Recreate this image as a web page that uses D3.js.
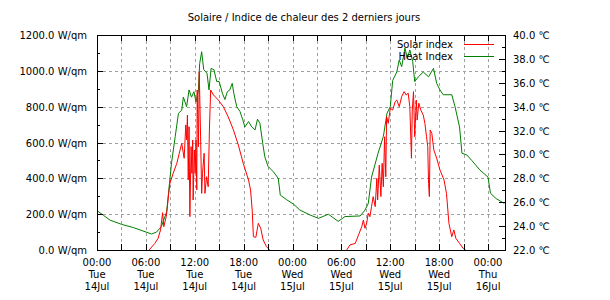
<!DOCTYPE html>
<html>
<head>
<meta charset="utf-8">
<script src="https://cdn.jsdelivr.net/npm/d3@7"></script>
<style>
body { margin:0; background:#fff; }
text { font-family: "DejaVu Sans", sans-serif; font-size:10px; fill:#000; }
.grid line { stroke:#a0a0a0; stroke-dasharray:3,3; }
</style>
</head>
<body>
<div id="chart"></div>
<script>
// =====================================================================
// data (hours since 14 Jul 00:00)
var heatHours = [0,0.8,1.6,3,4.5,5.9,6.7,7.3,7.9,8.55,8.9,9.15,9.6,10.0,10.4,10.6,11.0,11.3,11.6,11.9,12.15,12.45,12.6,12.85,13.1,13.5,13.75,14.0,14.35,14.7,15.0,15.4,15.7,16.0,16.3,16.6,16.8,17.15,17.55,17.9,18.15,18.6,19.0,19.4,19.7,20.0,20.35,20.6,21.0,21.65,22.25,22.5,23.3,24.1,24.9,
  26.15,27.2,28.4,29.6,30.45,32.3,32.9,33.3,33.7,34.5,35.15,35.6,36.0,36.3,36.8,37.1,37.4,37.8,38.1,38.4,38.75,39.0,39.45,40.05,40.7,41.3,41.7,42.1,42.5,43.55,43.95,44.5,44.8,45.4,46.0,47.0,48.0,48.3,49.0,50.0];
var heatValues = [25.3,24.9,24.5,24.15,23.87,23.53,23.34,23.5,23.95,25.2,27.6,29.3,31.5,33.45,33.7,34.8,34.0,35.4,34.8,35.25,34.4,35.4,37.6,38.6,37.1,36.8,35.4,37.2,37.1,36.1,36.1,35.1,34.6,35.25,35.4,35.95,35.1,34.0,33.6,32.9,32.3,32.75,32.3,32.05,32.95,32.6,30.9,29.8,29.0,28.55,28.0,26.6,26.2,25.85,25.35,
  24.93,24.65,25.0,24.4,24.8,24.85,25.35,25.9,28.1,30.1,31.5,33.45,34.0,36.2,36.9,37.9,37.35,38.9,38.05,38.75,37.8,36.1,36.5,36.9,36.5,37.2,35.95,35.4,35.0,35.0,34.0,32.3,30.1,29.95,29.5,28.7,28.1,26.75,26.3,25.9];

var solarHours = [6.4,7.1,7.5,7.8,8.05,8.2,8.5,8.65,8.8,8.95,9.35,9.8,10.1,10.4,10.7,10.9,11.0,11.1,11.2,11.3,11.4,11.55,11.65,11.75,11.8,11.95,12.05,12.15,12.25,12.3,12.45,12.55,12.7,12.85,12.95,13.15,13.25,13.45,13.65,13.8,13.95,14.3,14.9,15.5,16.1,16.75,17.35,17.95,18.6,18.85,19.05,19.2,19.5,19.8,20.1,20.4,20.8,21.2,
  null,
  30.65,31.05,31.7,32.1,32.5,32.7,32.9,33.1,33.3,33.5,33.7,33.9,34.15,34.35,34.45,34.65,34.85,35.0,35.15,35.3,35.45,35.55,35.75,36.0,36.3,36.6,36.8,37.1,37.4,37.7,37.95,38.2,38.4,38.6,38.7,38.85,39.0,39.2,39.3,39.5,39.75,40.05,40.25,40.45,40.6,40.7,40.8,40.9,41.1,41.35,41.7,42.1,42.6,42.9,43.2,43.55,43.8,44.05,44.5,44.95,45.25];
var solarValues = [0,37,65,112,208,130,186,245,316,372,428,484,540,595,512,698,614,753,391,688,186,577,428,614,279,558,428,614,335,893,577,995,670,316,428,540,316,409,353,670,893,865,837,800,744,670,586,484,391,335,223,74,71,149,121,56,19,0,
  null,
  0,28,37,84,130,167,121,149,205,186,242,298,242,400,279,474,298,484,353,632,409,744,707,791,781,828,837,800,856,884,865,875,800,512,781,884,632,837,725,819,781,753,707,632,577,372,298,670,651,558,512,447,391,316,149,74,112,65,37,9,0];

var titleText = "Solaire / Indice de chaleur des 2 derniers jours";
var seriesNames = ["Solar index", "Heat Index"];
var seriesColors = ["#ff0000", "#008000"];

// =====================================================================
var width = 610, height = 300;
var plot = { left:97, right:505, top:35, bottom:250 };
var start = new Date(2015, 6, 14, 0, 0);
var end = new Date(2015, 6, 16, 2, 5);
function hToDate(h) { return new Date(start.getTime() + h * 3600000); }

var svg = d3.select("#chart").append("svg")
    .attr("width", width).attr("height", height);

var x = d3.scaleTime().domain([start, end]).range([plot.left, plot.right]);
var yL = d3.scaleLinear().domain([0, 1200]).range([plot.bottom, plot.top]);
var yR = d3.scaleLinear().domain([22, 40]).range([plot.bottom, plot.top]);

// grid
var grid = svg.append("g").attr("class", "grid");
grid.selectAll(".gx").data(x.ticks(d3.timeHour.every(3)).filter(function(d){ return d > start; }))
    .enter().append("line")
    .attr("x1", function(d){ return Math.round(x(d)) + 0.5; })
    .attr("x2", function(d){ return Math.round(x(d)) + 0.5; })
    .attr("y1", plot.top).attr("y2", plot.bottom);
grid.selectAll(".gy").data(d3.range(200, 1200, 200))
    .enter().append("line")
    .attr("x1", plot.left).attr("x2", plot.right)
    .attr("y1", function(d){ return Math.round(yL(d)) + 0.5; })
    .attr("y2", function(d){ return Math.round(yL(d)) + 0.5; });

// lines
var heatData = heatHours.map(function(h, i){ return { t: hToDate(h), v: heatValues[i] }; });
var solarData = solarHours.map(function(h, i){ return h === null ? null : { t: hToDate(h), v: solarValues[i] }; });

svg.append("path").datum(heatData)
    .attr("fill", "none").attr("stroke", seriesColors[1]).attr("stroke-width", 1)
    .attr("d", d3.line().x(function(d){ return x(d.t); }).y(function(d){ return yR(d.v); }));

svg.append("path").datum(solarData)
    .attr("fill", "none").attr("stroke", seriesColors[0]).attr("stroke-width", 1)
    .attr("d", d3.line().defined(function(d){ return d !== null; })
        .x(function(d){ return x(d.t); }).y(function(d){ return yL(d.v); }));

// border + ticks
var axes = svg.append("g").attr("stroke", "#000").attr("stroke-width", 1);
axes.append("rect")
    .attr("x", plot.left + 0.5).attr("y", plot.top + 0.5)
    .attr("width", plot.right - plot.left).attr("height", plot.bottom - plot.top)
    .attr("fill", "none");

d3.range(0, 1201, 100).forEach(function(v){
    var len = v % 200 === 0 ? 6 : 3;
    var yy = Math.round(yL(v)) + 0.5;
    axes.append("line").attr("x1", plot.left).attr("x2", plot.left + len).attr("y1", yy).attr("y2", yy);
});
d3.range(22, 40.01, 1).forEach(function(v){
    var len = v % 2 === 0 ? 6 : 3;
    var yy = Math.round(yR(v)) + 0.5;
    axes.append("line").attr("x1", plot.right - len).attr("x2", plot.right).attr("y1", yy).attr("y2", yy);
});
x.ticks(d3.timeHour.every(3)).forEach(function(d){
    var xx = Math.round(x(d)) + 0.5;
    axes.append("line").attr("x1", xx).attr("x2", xx).attr("y1", plot.bottom).attr("y2", plot.bottom - 6);
    axes.append("line").attr("x1", xx).attr("x2", xx).attr("y1", plot.top).attr("y2", plot.top + 6);
});

// tick labels
var fmtNum = d3.format(".1f");
svg.selectAll(".yl").data(d3.range(0, 1201, 200)).enter().append("text")
    .attr("x", 87).attr("y", function(d){ return yL(d) + 4; })
    .attr("text-anchor", "end")
    .text(function(d){ return fmtNum(d) + " W/qm"; });

svg.selectAll(".yr").data(d3.range(22, 40.01, 2)).enter().append("text")
    .attr("x", 513).attr("y", function(d){ return yR(d) + 4; })
    .text(function(d){ return fmtNum(d) + " \u2103"; });

var fmtTime = d3.timeFormat("%H:%M"), fmtDay = d3.timeFormat("%a"), fmtDate = d3.timeFormat("%d%b");
var xl = svg.selectAll(".xl").data(x.ticks(d3.timeHour.every(6))).enter().append("text")
    .attr("text-anchor", "middle");
xl.append("tspan").attr("x", function(d){ return x(d); }).attr("y", 266).text(fmtTime);
xl.append("tspan").attr("x", function(d){ return x(d); }).attr("y", 278).text(fmtDay);
xl.append("tspan").attr("x", function(d){ return x(d); }).attr("y", 290).text(fmtDate);

// title
svg.append("text").attr("x", 304).attr("y", 21).attr("text-anchor", "middle").text(titleText);

// legend
seriesNames.forEach(function(name, i){
    var ly = 44 + i * 12;
    svg.append("text").attr("x", 453).attr("y", ly + 4).attr("text-anchor", "end").text(name);
    svg.append("line").attr("x1", 464).attr("x2", 494).attr("y1", ly + 0.5).attr("y2", ly + 0.5)
        .attr("stroke", seriesColors[i]).attr("stroke-width", 1);
});
</script>
</body>
</html>
